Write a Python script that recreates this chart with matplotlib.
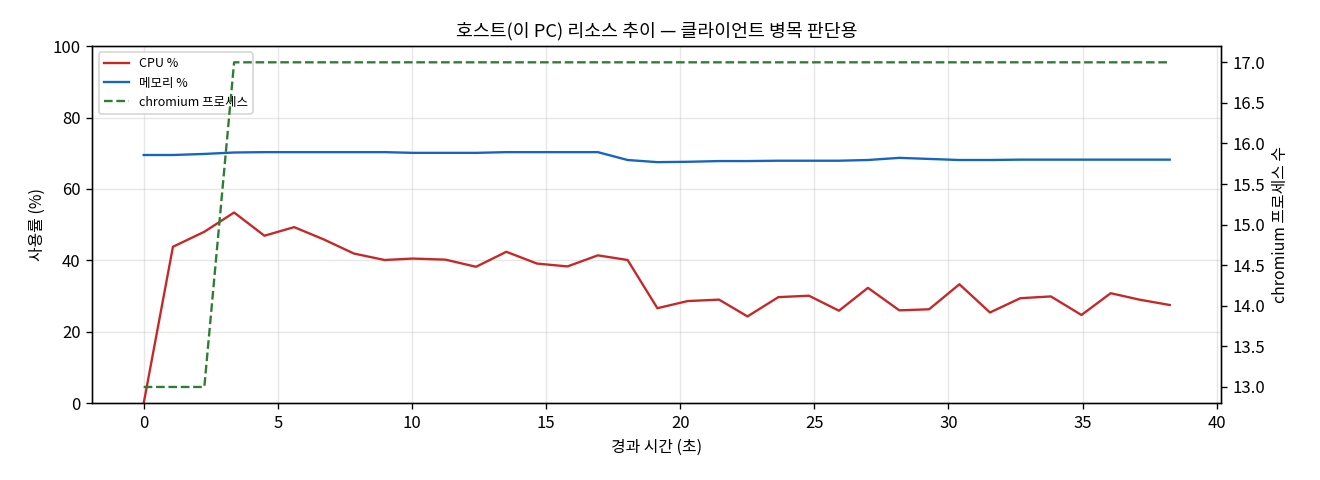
import matplotlib
matplotlib.use("Agg")
import matplotlib.pyplot as plt

plt.rcParams['font.family'] = ['Noto Sans CJK KR', 'DejaVu Sans']
plt.rcParams['axes.unicode_minus'] = False

# 경과 시간 (초)
elapsed = [0.0, 1.09, 2.26, 3.37, 4.50, 5.61, 6.70, 7.84, 8.98, 10.04,
           11.25, 12.39, 13.52, 14.66, 15.80, 16.93, 18.04, 19.15, 20.28, 21.45,
           22.51, 23.66, 24.80, 25.92, 27.00, 28.17, 29.28, 30.41, 31.55, 32.68,
           33.82, 34.96, 36.05, 37.12, 38.25]

cpu_pct = [0.0, 43.8, 48.0, 53.4, 46.9, 49.3, 45.9, 41.9, 40.1, 40.5,
           40.2, 38.2, 42.4, 39.1, 38.3, 41.4, 40.1, 26.6, 28.6, 29.0,
           24.3, 29.7, 30.1, 25.9, 32.3, 26.0, 26.3, 33.3, 25.4, 29.4,
           29.9, 24.7, 30.8, 29.0, 27.5]

mem_pct = [69.5, 69.5, 69.8, 70.2, 70.3, 70.3, 70.3, 70.3, 70.3, 70.1,
           70.1, 70.1, 70.3, 70.3, 70.3, 70.3, 68.1, 67.5, 67.6, 67.8,
           67.8, 67.9, 67.9, 67.9, 68.1, 68.7, 68.4, 68.1, 68.1, 68.2,
           68.2, 68.2, 68.2, 68.2, 68.2]

chromium_cnt = [13, 13, 13] + [17] * 32

fig, ax = plt.subplots(figsize=(11, 4), dpi=120)

l1, = ax.plot(elapsed, cpu_pct, color='#c62828', lw=1.4, label='CPU %')
l2, = ax.plot(elapsed, mem_pct, color='#1565c0', lw=1.4, label='메모리 %')
ax.set_ylim(0, 100)
ax.set_xlabel('경과 시간 (초)', fontsize=9.5)
ax.set_ylabel('사용률 (%)', fontsize=9.5)
ax.grid(True, alpha=0.3)
ax.tick_params(labelsize=10)

ax2 = ax.twinx()
l3, = ax2.plot(elapsed, chromium_cnt, color='#2e7d32', lw=1.4, ls='--',
               label='chromium 프로세스')
ax2.set_ylabel('chromium 프로세스 수', fontsize=9.5)
ax2.tick_params(labelsize=10)

ax.legend(handles=[l1, l2, l3], loc='upper left', fontsize=7.5)
ax.set_title('호스트(이 PC) 리소스 추이 — 클라이언트 병목 판단용', fontsize=11)

fig.subplots_adjust(left=0.070, right=0.925, top=0.904, bottom=0.160)
fig.savefig('out.png')
